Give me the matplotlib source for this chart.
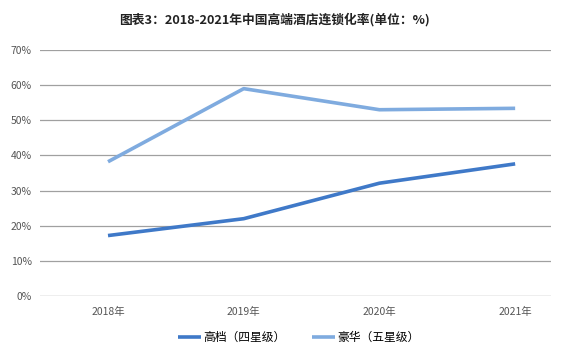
import matplotlib
matplotlib.use("Agg")
from matplotlib import pyplot as plt
from matplotlib.ticker import PercentFormatter

plt.rcParams['font.family'] = ['Noto Sans CJK SC', 'DejaVu Sans']

years = ['2018年', '2019年', '2020年', '2021年']
high_end = [17.2, 22.0, 32.1, 37.6]   # 高档（四星级）
luxury = [38.2, 59.0, 53.0, 53.4]     # 豪华（五星级）
yticks = [0, 10, 20, 30, 40, 50, 60, 70]

fig = plt.figure(figsize=(5.66, 3.56), dpi=100)
ax = fig.add_axes([0.0707, 0.1685, 0.903, 0.6911])

x = range(len(years))
ax.plot(x, high_end, color='#3f79c8', lw=2.6, label='高档（四星级）', solid_capstyle='butt')
ax.plot(x, luxury, color='#7fabdf', lw=2.6, label='豪华（五星级）', solid_capstyle='butt')

ax.set_xlim(-0.501, 3.265)
ax.set_ylim(0, 70)
ax.set_yticks(yticks)
ax.yaxis.set_major_formatter(PercentFormatter(decimals=0))
ax.set_xticks(list(x))
ax.set_xticklabels(years)
ax.tick_params(length=0, labelsize=7.5, colors='#555555')
ax.tick_params(axis='y', pad=6)
ax.tick_params(axis='x', pad=8)
ax.grid(axis='y', color='#a0a0a0', lw=0.9)
ax.set_axisbelow(True)
for s in ax.spines.values():
    s.set_visible(False)
ax.axhline(0, color='#dddddd', lw=0.9, zorder=0)

fig.text(0.485, 0.945, '图表3：2018-2021年中国高端酒店连锁化率(单位：%)',
         ha='center', va='center', fontsize=9.2, fontweight='bold', color='#222222')

fig.legend(loc='center', bbox_to_anchor=(0.528, 0.053), ncol=2, frameon=False,
           fontsize=8.5, handlelength=1.9, columnspacing=2.3, handletextpad=0.2)

fig.savefig('out.png', dpi=100)
